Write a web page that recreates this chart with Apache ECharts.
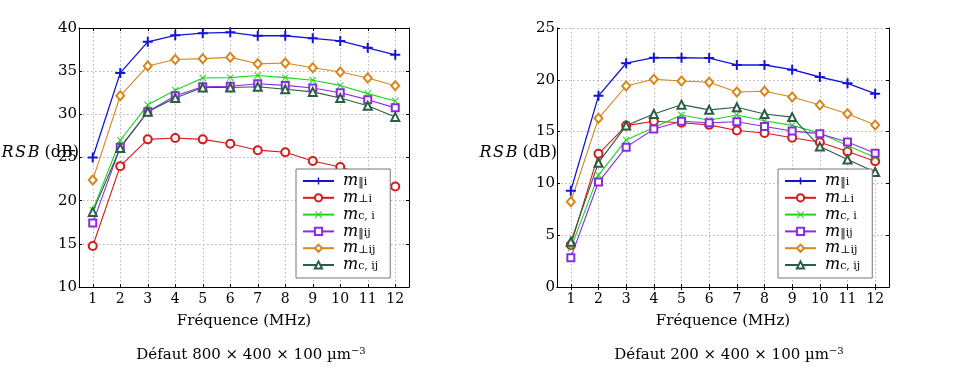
<!DOCTYPE html>
<html><head><meta charset="utf-8">
<script src="https://cdn.jsdelivr.net/npm/echarts@6/dist/echarts.min.js"></script>
<style>html,body{margin:0;padding:0;background:#fff}#c{width:966px;height:371px}</style>
</head><body><div id="c"></div>
<script>
const categories = ['1','2','3','4','5','6','7','8','9','10','11','12'];
const seriesNames = ['m_par_i','m_perp_i','m_c_i','m_par_ij','m_perp_ij','m_c_ij'];
const legendSubs = ['‖i','⊥i','c, i','‖ij','⊥ij','c, ij'];

// Left chart: Défaut 800 x 400 x 100
const L_par_i   = [25.0, 34.8, 38.4, 39.15, 39.4, 39.5, 39.1, 39.1, 38.8, 38.5, 37.7, 36.9];
const L_perp_i  = [14.75, 24.0, 27.1, 27.25, 27.1, 26.6, 25.85, 25.6, 24.6, 23.9, 22.9, 21.65];
const L_c_i     = [18.9, 27.0, 31.1, 32.8, 34.2, 34.25, 34.5, 34.25, 33.95, 33.35, 32.4, 31.55];
const L_par_ij  = [17.4, 26.2, 30.3, 32.15, 33.2, 33.25, 33.55, 33.35, 33.05, 32.5, 31.7, 30.75];
const L_perp_ij = [22.4, 32.15, 35.6, 36.35, 36.45, 36.6, 35.85, 35.95, 35.4, 34.9, 34.2, 33.3];
const L_c_ij    = [18.7, 26.1, 30.3, 31.9, 33.1, 33.1, 33.2, 32.9, 32.6, 31.9, 31.0, 29.7];

// Right chart: Défaut 200 x 400 x 100
const R_par_i   = [9.3, 18.45, 21.6, 22.13, 22.13, 22.1, 21.43, 21.43, 20.98, 20.27, 19.66, 18.66];
const R_perp_i  = [4.05, 12.85, 15.58, 16.0, 15.85, 15.65, 15.1, 14.87, 14.4, 13.97, 13.07, 12.13];
const R_c_i     = [3.75, 10.8, 14.2, 15.4, 16.6, 16.1, 16.6, 16.05, 15.6, 14.85, 13.65, 12.5];
const R_par_ij  = [2.83, 10.13, 13.5, 15.25, 16.0, 15.85, 15.95, 15.5, 15.05, 14.8, 14.0, 12.9];
const R_perp_ij = [8.23, 16.28, 19.4, 20.05, 19.88, 19.76, 18.82, 18.89, 18.34, 17.57, 16.73, 15.64];
const R_c_ij    = [4.37, 12.0, 15.58, 16.7, 17.6, 17.1, 17.35, 16.7, 16.4, 13.55, 12.3, 11.1];

const leftData  = [L_par_i, L_perp_i, L_c_i, L_par_ij, L_perp_ij, L_c_ij];
const rightData = [R_par_i, R_perp_i, R_c_i, R_par_ij, R_perp_ij, R_c_ij];

const FONT = 'DejaVu Serif';
const colors = ['#1414d6','#d41a1a','#1fd41f','#8a2be2','#d8861a','#2a5e42'];
const symbols = [
  'path://M4,0H6V4H10V6H6V10H4V6H0V4H4Z',
  'emptyCircle',
  'path://M1,0L5,4L9,0L10,1L6,5L10,9L9,10L5,6L1,10L0,9L4,5L0,1Z',
  'emptyRect',
  'emptyDiamond',
  'emptyTriangle'
];
const symSizes = [10, 8, 7, 7, [8,9], 8];

const grids = [
  {left: 79, right: 557, top: 28, bottom: 84, containLabel: false, outerBoundsMode: 'none'},
  {left: 557, right: 77, top: 28, bottom: 84, containLabel: false, outerBoundsMode: 'none'}
];
const yRanges = [[10, 40], [0, 25]];

const xAxes = [], yAxes = [];
[0,1].forEach(g => {
  xAxes.push({
    type: 'category', gridIndex: g, data: categories, boundaryGap: true,
    axisLine: {show: true, lineStyle: {color: '#000', width: 1}},
    axisTick: {show: true, inside: true, alignWithLabel: true, length: 3, lineStyle: {color: '#000'}},
    axisLabel: {color: '#000', fontFamily: FONT, fontSize: 14, margin: 5, interval: 0},
    splitLine: {show: true, alignWithLabel: true, interval: 0, lineStyle: {color: '#b5b5b5', type: [1.5, 2.5], width: 1}},
    name: 'Fréquence (MHz)', nameLocation: 'middle', nameGap: 27,
    nameTextStyle: {color: '#000', fontFamily: FONT, fontSize: 15}
  });
  xAxes.push({
    type: 'category', gridIndex: g, data: categories, boundaryGap: true, position: 'top',
    axisLine: {show: true, lineStyle: {color: '#000', width: 1}},
    axisTick: {show: true, inside: true, alignWithLabel: true, length: 3, lineStyle: {color: '#000'}},
    axisLabel: {show: false}, splitLine: {show: false}
  });
  yAxes.push({
    type: 'value', gridIndex: g, min: yRanges[g][0], max: yRanges[g][1], interval: 5,
    axisLine: {show: true, lineStyle: {color: '#000', width: 1}},
    axisTick: {show: true, inside: true, length: 3, lineStyle: {color: '#000'}},
    axisLabel: {color: '#000', fontFamily: FONT, fontSize: 15, margin: 2},
    splitLine: {show: true, lineStyle: {color: '#b5b5b5', type: [1.5, 2.5], width: 1}},
    name: '{i|R\u200aS\u200aB} (dB)', nameLocation: 'middle', nameRotate: 0, nameGap: 0,
    nameMoveOverlap: false,
    nameTextStyle: {color: '#000', fontFamily: FONT, fontSize: 16, align: 'right', verticalAlign: 'middle',
      padding: [0, 0, 9, 0],
      rich: {i: {fontStyle: 'italic', fontFamily: FONT, fontSize: 16}}}
  });
  yAxes.push({
    type: 'value', gridIndex: g, min: yRanges[g][0], max: yRanges[g][1], interval: 5, position: 'right',
    axisLine: {show: true, lineStyle: {color: '#000', width: 1}},
    axisTick: {show: true, inside: true, length: 3, lineStyle: {color: '#000'}},
    axisLabel: {show: false}, splitLine: {show: false}
  });
});

const series = [];
[leftData, rightData].forEach((set, g) => {
  set.forEach((vals, i) => {
    series.push({
      type: 'line', name: seriesNames[i], xAxisIndex: g * 2, yAxisIndex: g * 2,
      data: vals, symbol: symbols[i], symbolSize: symSizes[i], showAllSymbol: true,
      color: colors[i],
      lineStyle: {width: i === 0 ? 1.3 : 1.1, color: colors[i]},
      itemStyle: {color: colors[i], borderWidth: 1.1},
      emphasis: {disabled: true}, animation: false
    });
  });
});

const legendRich = {
  m: {fontStyle: 'italic', fontFamily: FONT, fontSize: 16, lineHeight: 14, color: '#000'},
  s: {fontFamily: FONT, fontSize: 11, lineHeight: 6, verticalAlign: 'bottom', color: '#000'}
};
function legendFmt(name) {
  const i = seriesNames.indexOf(name);
  return '{m|m}{s|' + legendSubs[i] + '}';
}
const legendBase = {
  orient: 'vertical', top: 169, data: seriesNames, itemWidth: 31, itemHeight: 9, itemGap: 0.8,
  backgroundColor: '#fff', borderColor: '#777', borderWidth: 1, borderRadius: 0,
  padding: [4, 12, 5, 6], formatter: legendFmt, lineStyle: {width: 2},
  textStyle: {rich: legendRich, padding: [0, 0, 0, 4]}, selectedMode: false, z: 10
};

const titleRich = {
  t: {fontFamily: FONT, fontSize: 15, lineHeight: 18, fontWeight: 'normal', color: '#000'},
  p: {fontFamily: FONT, fontSize: 10, lineHeight: 8, verticalAlign: 'top', fontWeight: 'normal', color: '#000'}
};
const option = {
  animation: false,
  backgroundColor: '#fff',
  title: [
    {text: '{t|Défaut 800 × 400 × 100 µm}{p|−3}', left: 246, top: 341, textAlign: 'center',
     textStyle: {rich: titleRich, fontWeight: 'normal'}},
    {text: '{t|Défaut 200 × 400 × 100 µm}{p|−3}', left: 724, top: 341, textAlign: 'center',
     textStyle: {rich: titleRich, fontWeight: 'normal'}}
  ],
  grid: grids,
  xAxis: xAxes,
  yAxis: yAxes,
  legend: [
    Object.assign({}, legendBase, {left: 296}),
    Object.assign({}, legendBase, {left: 778})
  ],
  series: series
};
const chart = echarts.init(document.getElementById('c'), null, {renderer: 'canvas'});
chart.setOption(option);
</script></body></html>
